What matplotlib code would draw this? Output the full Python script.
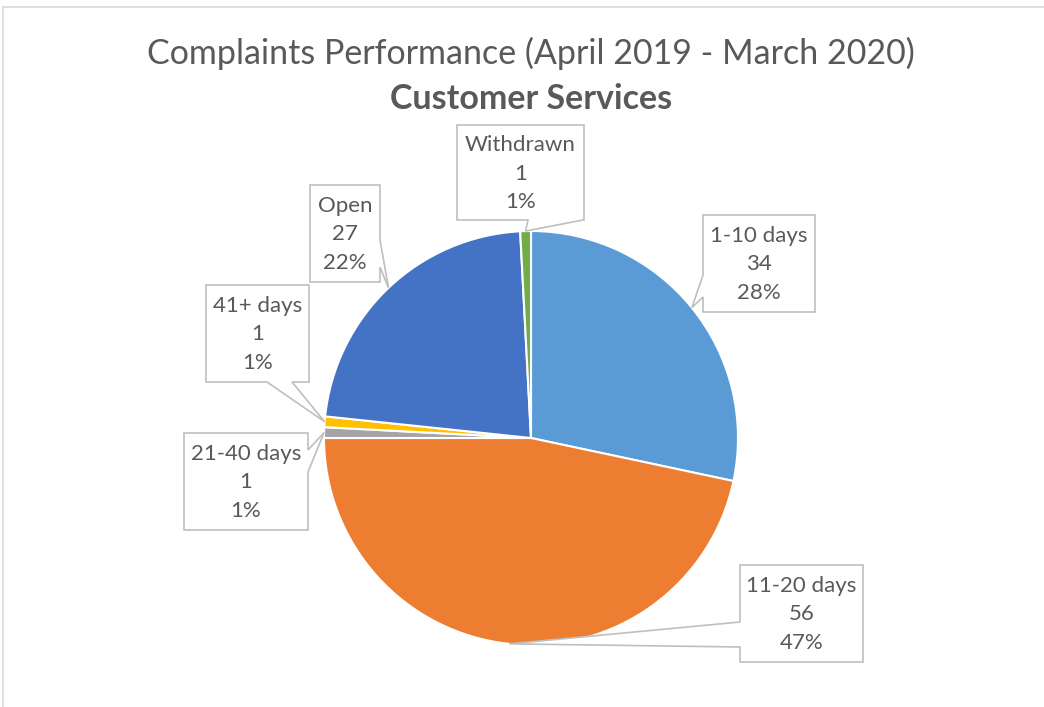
import numpy as np
import matplotlib
matplotlib.use('Agg')
import matplotlib.pyplot as plt
from matplotlib.patches import Polygon, Rectangle

labels = ['1-10 days', '11-20 days', '21-40 days', '41+ days', 'Open', 'Withdrawn']
values = [34, 56, 1, 1, 27, 1]
colors = ['#5B9BD5', '#ED7D31', '#A5A5A5', '#FFC000', '#4472C4', '#70AD47']

plt.rcParams['font.family'] = ['Lato', 'DejaVu Sans']

W, H = 1044, 707
fig = plt.figure(figsize=(W / 100, H / 100), dpi=100)
ax = fig.add_axes([0, 0, 1, 1])

# pixel coords, y measured from top -> flip
def fy(y):
    return H - y

cx, cy, r = 531, 438, 207
wedges, _ = ax.pie(values, colors=colors, startangle=90, counterclock=False,
                   center=(cx, fy(cy)), radius=r,
                   wedgeprops=dict(edgecolor='white', linewidth=1.5))
ax.set_xlim(0, W)
ax.set_ylim(0, H)
ax.set_aspect('equal')
ax.axis('off')

# chart border
ax.add_patch(Rectangle((3, fy(720)), 1060, 713, fill=False, edgecolor='#D9D9D9', lw=1.2))

ax.text(531, fy(53), 'Complaints Performance (April 2019 - March 2020)', ha='center', va='center',
        fontsize=24.5, color='#595959')
ax.text(531, fy(99), 'Customer Services', ha='center', va='center',
        fontsize=24.5, color='#595959', fontweight='bold')

# callout boxes: (x0, y0, x1, y1), side of tail, tail base along that edge
boxes = {
    '1-10 days': ((703, 215, 815, 312), 'left', (275, 297)),
    '11-20 days': ((740, 565, 863, 662), 'left', (622, 647)),
    '21-40 days': ((184, 433, 308, 530), 'right', (450, 472)),
    '41+ days': ((206, 285, 309, 382), 'bottom', (267, 292)),
    'Open': ((310, 185, 380, 282), 'right', (240, 267)),
    'Withdrawn': ((457, 125, 584, 220), 'bottom', (528, 583)),
}

total = sum(values)
for w, lab, v in zip(wedges, labels, values):
    ang = np.deg2rad((w.theta1 + w.theta2) / 2)
    tx = cx + r * np.cos(ang)
    ty = fy(cy) + r * np.sin(ang)
    (x0, y0, x1, y1), side, (b1, b2) = boxes[lab]
    tip = (tx, ty)
    if side == 'left':
        pts = [(x0, y0), (x1, y0), (x1, y1), (x0, y1), (x0, b2), tip, (x0, b1)]
    elif side == 'right':
        pts = [(x0, y0), (x1, y0), (x1, b1), tip, (x1, b2), (x1, y1), (x0, y1)]
    else:
        pts = [(x0, y0), (x1, y0), (x1, y1), (b2, y1), tip, (b1, y1), (x0, y1)]
    pts = [(p[0], fy(p[1])) if p is not tip else p for p in pts]
    ax.add_patch(Polygon(pts, closed=True, facecolor='white', edgecolor='#BFBFBF', lw=1.2, zorder=3))
    pct = '{:.0f}%'.format(100 * v / total)
    ax.text((x0 + x1) / 2, fy((y0 + y1) / 2 + 1), '{}\n{}\n{}'.format(lab, v, pct),
            ha='center', va='center', fontsize=16, color='#595959', linespacing=1.55, zorder=4)

fig.savefig('out.png', dpi=100)
